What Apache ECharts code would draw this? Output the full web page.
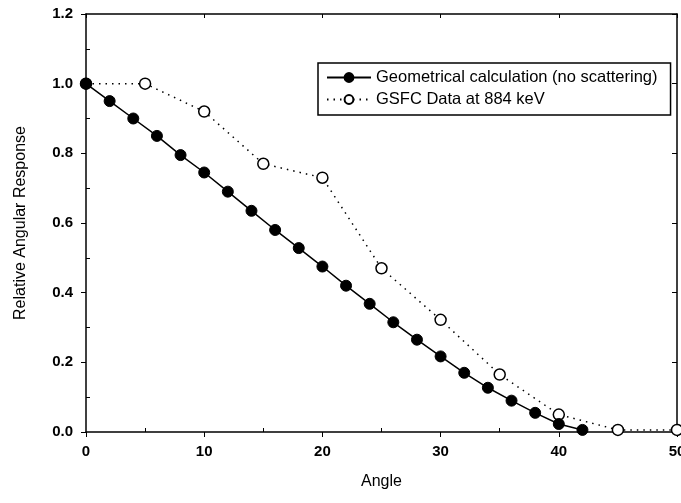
<!DOCTYPE html>
<html>
<head>
<meta charset="utf-8">
<script src="https://cdn.jsdelivr.net/npm/echarts@6/dist/echarts.min.js"></script>
<style>
  html, body { margin: 0; padding: 0; background: #fff; }
  #main { width: 681px; height: 503px; }
</style>
</head>
<body>
<div id="main"></div>
<script>
// data
var geoAngles = [0, 2, 4, 6, 8, 10, 12, 14, 16, 18, 20, 22, 24, 26, 28, 30, 32, 34, 36, 38, 40, 42];
var geoValues = [1.0, 0.95, 0.90, 0.85, 0.795, 0.745, 0.69, 0.635, 0.58, 0.528, 0.475, 0.42, 0.368, 0.315, 0.265, 0.217, 0.17, 0.127, 0.09, 0.055, 0.023, 0.006];
var gsfcAngles = [0, 5, 10, 15, 20, 25, 30, 35, 40, 45, 50];
var gsfcValues = [1.0, 1.0, 0.92, 0.77, 0.73, 0.47, 0.322, 0.165, 0.05, 0.006, 0.006];

var geoName = 'Geometrical calculation (no scattering)';
var gsfcName = 'GSFC Data at 884 keV';

function pairs(xs, ys) {
  return xs.map(function (x, i) { return [x, ys[i]]; });
}

var font = 'Liberation Sans, Arial, sans-serif';
var myChart = echarts.init(document.getElementById('main'));
myChart.setOption({
  animation: false,
  backgroundColor: '#fff',
  grid: { left: 86, right: 4, top: 14, bottom: 71, outerBoundsMode: 'none', containLabel: false },
  legend: {
    orient: 'vertical',
    left: 318,
    top: 63,
    borderColor: '#000',
    borderWidth: 1.5,
    padding: [6, 13, 7, 8],
    itemGap: 5,
    itemWidth: 44,
    itemHeight: 11,
    textStyle: { fontFamily: font, fontSize: 16.5, color: '#000' },
    data: [geoName, gsfcName]
  },
  xAxis: [{
    type: 'value',
    min: 0, max: 50, interval: 10,
    name: 'Angle',
    nameLocation: 'middle',
    nameGap: 42,
    nameTextStyle: { fontFamily: font, fontSize: 16, color: '#000' },
    axisLine: { onZero: false, lineStyle: { color: '#000', width: 1.5 } },
    axisTick: { show: true, length: 5, lineStyle: { color: '#000' } },
    minorTick: { show: true, splitNumber: 2, length: -4, lineStyle: { color: '#000' } },
    axisLabel: { fontFamily: font, fontSize: 15, fontWeight: 'bold', color: '#000', margin: 12 },
    splitLine: { show: false }
  }, {
    type: 'value',
    position: 'top',
    min: 0, max: 50, interval: 10,
    axisLine: { show: true, onZero: false, lineStyle: { color: '#000', width: 1.5 } },
    axisTick: { show: true, inside: true, length: 4, lineStyle: { color: '#000' } },
    axisLabel: { show: false },
    splitLine: { show: false }
  }],
  yAxis: [{
    type: 'value',
    min: 0, max: 1.2, interval: 0.2,
    name: 'Relative Angular Response',
    nameLocation: 'middle',
    nameGap: 57,
    nameTextStyle: { fontFamily: font, fontSize: 16, color: '#000' },
    axisLine: { show: true, onZero: false, lineStyle: { color: '#000', width: 1.5 } },
    axisTick: { show: true, length: 5, lineStyle: { color: '#000' } },
    minorTick: { show: true, splitNumber: 2, length: -4, lineStyle: { color: '#000' } },
    axisLabel: {
      fontFamily: font, fontSize: 15, fontWeight: 'bold', color: '#000', margin: 13,
      formatter: function (v) { return v.toFixed(1); }
    },
    splitLine: { show: false }
  }, {
    type: 'value',
    position: 'right',
    min: 0, max: 1.2, interval: 0.2,
    axisLine: { show: true, onZero: false, lineStyle: { color: '#000', width: 1.5 } },
    axisTick: { show: true, inside: true, length: 5, lineStyle: { color: '#000' } },
    axisLabel: { show: false },
    splitLine: { show: false }
  }],
  series: [{
    name: gsfcName,
    type: 'line',
    data: pairs(gsfcAngles, gsfcValues),
    symbol: 'circle',
    symbolSize: 11,
    itemStyle: { color: '#fff', borderColor: '#000', borderWidth: 1.5 },
    lineStyle: { color: '#000', width: 1.5, type: [1.5, 5] },
    z: 3
  }, {
    name: geoName,
    type: 'line',
    data: pairs(geoAngles, geoValues),
    symbol: 'circle',
    symbolSize: 11,
    itemStyle: { color: '#000', borderColor: '#000', borderWidth: 1 },
    lineStyle: { color: '#000', width: 1.5 },
    z: 4
  }]
});
</script>
</body>
</html>
